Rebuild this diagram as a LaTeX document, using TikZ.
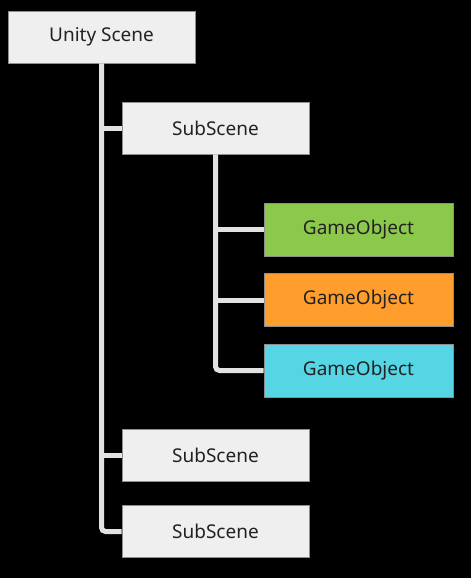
\documentclass[tikz,border=0pt]{standalone}
\usepackage{fontspec}
\setmainfont{Noto Sans}
\usepackage{xcolor}
\usepackage{tikz}
\usetikzlibrary{positioning}
\definecolor{USBack}  {HTML}{000000}
\definecolor{USBox}   {HTML}{EFEFEF}
\definecolor{USEdge}  {HTML}{8E8E8E}
\definecolor{USLine}  {HTML}{E2E2E2}
\definecolor{USText}  {HTML}{222222}
\definecolor{USGreen} {HTML}{8CC84B}
\definecolor{USOrange}{HTML}{FF9E2C}
\definecolor{USCyan}  {HTML}{56D6E4}

\tikzset{
  scenebox/.style={draw=USEdge,line width=0.8pt,fill=USBox,text=USText,
    minimum width=187pt,minimum height=52pt,inner sep=0pt,font=\fontsize{19}{22}\selectfont},
  objbox/.style={scenebox,minimum width=189pt,minimum height=53pt},
  link/.style={draw=USLine,line width=5pt,rounded corners=4pt}
}

\begin{document}
\begin{tikzpicture}[x=1pt,y=-1pt]
    \fill[USBack] (0,0) rectangle (471,578);
    \useasboundingbox (0,0) rectangle (471,578);

    % boxes
    \node[scenebox] (unity) at (101.5,37) {Unity Scene};
    \node[scenebox] (sub1) at (215.5,128) {SubScene};
    \node[objbox,fill=USGreen]  (obj1) at (358.5,229.5) {GameObject};
    \node[objbox,fill=USOrange] (obj2) at (358.5,300) {GameObject};
    \node[objbox,fill=USCyan]   (obj3) at (358.5,370.5) {GameObject};
    \node[scenebox] (sub2) at (215.5,455) {SubScene};
    \node[scenebox] (sub3) at (215.5,531.5) {SubScene};

    % tree lines
    \draw[link] (unity.south) |- (sub3.west);
    \draw[link] (unity.south |- sub1.west) -- (sub1.west);
    \draw[link] (unity.south |- sub2.west) -- (sub2.west);
    \draw[link] (sub1.south) |- (obj3.west);
    \draw[link] (sub1.south |- obj1.west) -- (obj1.west);
    \draw[link] (sub1.south |- obj2.west) -- (obj2.west);
\end{tikzpicture}
\end{document}
